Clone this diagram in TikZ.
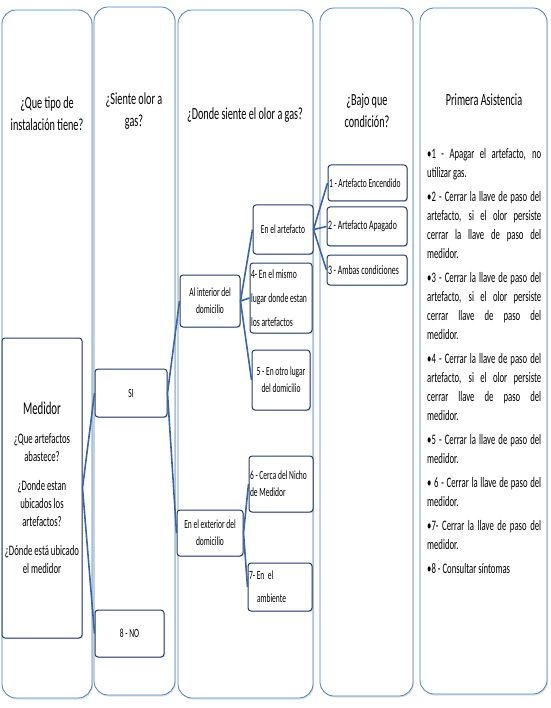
\documentclass[tikz,border=0pt]{standalone}
\usepackage{fontspec}
\setmainfont[FakeStretch=0.6]{Carlito}
\usetikzlibrary{shapes,arrows,positioning,shadows}

\definecolor{colline}{RGB}{79,129,189}
\definecolor{boxline}{RGB}{36,60,96}
\definecolor{linkblue}{RGB}{58,100,165}

\begin{document}
\begin{tikzpicture}[x=1pt, y=-1pt,
    column/.style={rectangle, draw=colline, line width=0.8pt, rounded corners=14pt, fill=white, drop shadow={opacity=0.25, shadow xshift=1pt, shadow yshift=-1.5pt}},
    header/.style={align=center, font=\fontsize{17}{22}\selectfont},
    block/.style={rectangle, draw=boxline, line width=1pt, rounded corners=3pt, fill=white, drop shadow={opacity=0.3, shadow xshift=1pt, shadow yshift=-1pt}, inner sep=1pt, align=center, font=\fontsize{12.5}{17}\selectfont},
    choice/.style={block, align=flush left},
    steps/.style={text width=114pt, align=justify, inner sep=0pt, font=\fontsize{14.5}{19}\selectfont\setlength{\parskip}{5pt}\setlength{\parindent}{0pt}},
    branch/.style={draw=linkblue, line width=1.6pt}
]
\useasboundingbox (0,0) rectangle (550,708);

% Columns
\node[column, minimum width=90pt, minimum height=688pt] at (47,354) (c1) {};
\node[column, minimum width=81pt, minimum height=688pt] at (134.5,351) (c2) {};
\node[column, minimum width=135pt, minimum height=688pt] at (245.5,354) (c3) {};
\node[column, minimum width=93pt, minimum height=688pt] at (366.5,352) (c4) {};
\node[column, minimum width=127pt, minimum height=686pt] at (483.5,351) (c5) {};

% Headings
\node[header] at (47,114) (h1) {¿Que tipo de\\instalación tiene?};
\node[header] at (134,111) (h2) {¿Siente olor a\\gas?};
\node[header] at (245,115) (h3) {¿Donde siente el olor a gas?};
\node[header] at (367,111) (h4) {¿Bajo que\\condición?};
\node[header] at (484,100) (h5) {Primera Asistencia};

% Installation
\node[block, minimum width=80pt, minimum height=300pt, font=\fontsize{14.5}{18}\selectfont] at (42,488) (medidor) {{\fontsize{18}{22}\selectfont Medidor}\\[11pt]
    ¿Que artefactos\\abastece?\\[11pt]
    ¿Donde estan\\ubicados los\\artefactos?\\[11pt]
    ¿Dónde está ubicado\\el medidor};

% Smell
\node[block, minimum width=72pt, minimum height=48pt] at (131,393) (si) {SI};
\node[block, minimum width=69pt, minimum height=47pt] at (129.5,633.5) (no) {8 - NO};

% Where
\node[block, minimum width=60pt, minimum height=52pt] at (210,301) (interior) {Al interior del\\domicilio};
\node[block, minimum width=66pt, minimum height=46pt] at (210,533) (exterior) {En el exterior del\\domicilio};
\node[block, minimum width=60pt, minimum height=49pt] at (283,229.5) (artefacto) {En el artefacto};
\node[choice, text width=60pt, minimum height=70pt, font=\fontsize{12.8}{24}\selectfont] at (281,298) (mismo) {4- En el mismo\\lugar donde estan\\los artefactos};
\node[block, minimum width=58pt, minimum height=60pt] at (281,380) (otro) {5 - En otro lugar\\del domicilio};
\node[choice, text width=62pt, minimum height=56pt] at (281,484) (nicho) {6 - Cerca del Nicho\\de Medidor};
\node[choice, text width=62pt, minimum height=48pt, font=\fontsize{12.5}{23}\selectfont] at (280,587) (ambiente) {7- En~~el\\\hspace*{8pt}ambiente};

% Condition
\node[choice, text width=77pt, minimum height=36pt] at (367.5,183) (encendido) {1 - Artefacto Encendido};
\node[choice, text width=78pt, minimum height=39pt, font=\fontsize{13}{17}\selectfont] at (367,226.5) (apagado) {2 - Artefacto Apagado};
\node[choice, text width=78pt, minimum height=30pt, font=\fontsize{13}{17}\selectfont] at (367,270) (ambas) {3 - Ambas condiciones};

% First aid
\node[steps, anchor=north west] at (427,148) (aid) {%
•1 - Apagar el artefacto, no\linebreak utilizar gas.\par
•2 - Cerrar la llave de paso del\linebreak artefacto, si el olor persiste\linebreak cerrar la llave de paso del\linebreak medidor.\par
•3 - Cerrar la llave de paso del\linebreak artefacto, si el olor persiste\linebreak cerrar llave de paso del\linebreak medidor.\par
•4 - Cerrar la llave de paso del\linebreak artefacto, si el olor persiste\linebreak cerrar llave de paso del\linebreak medidor.\par
•5 - Cerrar la llave de paso del\linebreak medidor.\par
• 6 - Cerrar la llave de paso del\linebreak medidor.\par
•7- Cerrar la llave de paso del\linebreak medidor.\par
•8 - Consultar síntomas};

% Branches
\draw[branch] (medidor.east) -- (si.west);
\draw[branch] (medidor.east) -- (no.west);
\draw[branch] (si.east) -- (interior.west);
\draw[branch] (si.east) -- (exterior.west);
\draw[branch] (interior.east) -- (artefacto.west);
\draw[branch] (interior.east) -- (mismo.west);
\draw[branch] (interior.east) -- (otro.west);
\draw[branch] (exterior.east) -- (nicho.west);
\draw[branch] (exterior.east) -- (ambiente.west);
\draw[branch] (artefacto.east) -- (encendido.west);
\draw[branch] (artefacto.east) -- (apagado.west);
\draw[branch] (artefacto.east) -- (ambas.west);

\end{tikzpicture}
\end{document}
